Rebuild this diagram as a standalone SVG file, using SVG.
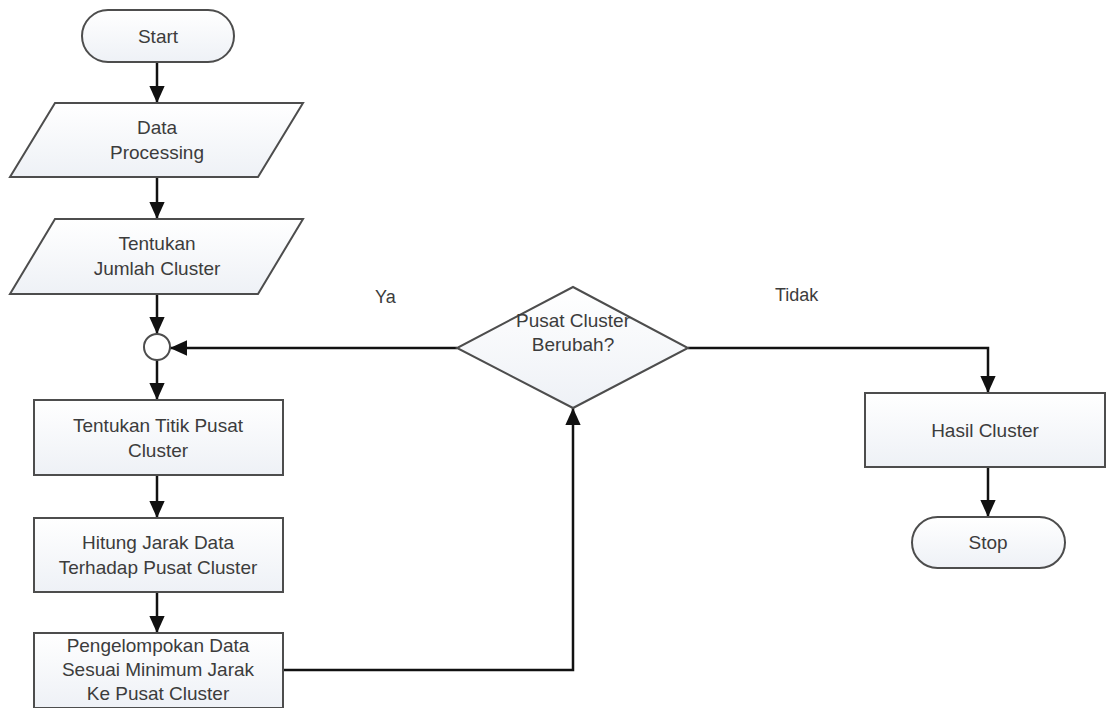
<svg xmlns="http://www.w3.org/2000/svg" width="1106" height="708" viewBox="0 0 1106 708">
<defs>
<linearGradient id="fillg" x1="0" y1="0" x2="0" y2="1">
<stop offset="0" stop-color="#ffffff"/>
<stop offset="1" stop-color="#eef1f6"/>
</linearGradient>
<marker id="arr" viewBox="0 0 10 10" refX="10" refY="5" markerWidth="17" markerHeight="17" markerUnits="userSpaceOnUse" orient="auto">
<path d="M0,0.5 L10,5 L0,9.5 z" fill="#111"/>
</marker>
</defs>
<style>
.shape{fill:url(#fillg);stroke:#4d4d4d;stroke-width:2}
.lbl{font-family:"Liberation Sans",Arial,sans-serif;font-size:19px;fill:#3c3c3c;text-anchor:middle}
.edge{fill:none;stroke:#111;stroke-width:2.5;marker-end:url(#arr)}
.elbl{font-family:"Liberation Sans",Arial,sans-serif;font-size:18px;fill:#3c3c3c}
</style>
<rect width="1106" height="708" fill="#ffffff"/>
<g id="connectors">
<path class="edge" d="M157,62 L157,103"/>
<path class="edge" d="M157,177 L157,219"/>
<path class="edge" d="M157,294 L157,334"/>
<path class="edge" d="M157,360 L157,400"/>
<path class="edge" d="M157,475 L157,518"/>
<path class="edge" d="M157,592 L157,633"/>
<path class="edge" d="M283,670 L573,670 L573,408"/>
<path class="edge" d="M457,348 L170,348"/>
<path class="edge" d="M688,348 L988,348 L988,393"/>
<path class="edge" d="M988,467 L988,517"/>
<text class="elbl" x="375" y="303">Ya</text>
<text class="elbl" x="775" y="301">Tidak</text>
</g>
<g id="start">
<rect class="shape" x="82" y="10" width="152" height="52" rx="26"/>
<text class="lbl" x="158" y="43">Start</text>
</g>
<g id="data-processing">
<polygon class="shape" points="55,103 303,103 258,177 10,177"/>
<text class="lbl" x="157" y="134">Data</text>
<text class="lbl" x="157" y="159">Processing</text>
</g>
<g id="jumlah-cluster">
<polygon class="shape" points="55,219 303,219 258,294 10,294"/>
<text class="lbl" x="157" y="250">Tentukan</text>
<text class="lbl" x="157" y="275">Jumlah Cluster</text>
</g>
<g id="junction">
<circle cx="157" cy="347" r="13" fill="#fff" stroke="#4d4d4d" stroke-width="2"/>
</g>
<g id="titik-pusat">
<rect class="shape" x="34" y="400" width="249" height="75"/>
<text class="lbl" x="158" y="432">Tentukan Titik Pusat</text>
<text class="lbl" x="158" y="457">Cluster</text>
</g>
<g id="hitung-jarak">
<rect class="shape" x="34" y="518" width="249" height="74"/>
<text class="lbl" x="158" y="549">Hitung Jarak Data</text>
<text class="lbl" x="158" y="574">Terhadap Pusat Cluster</text>
</g>
<g id="pengelompokan">
<rect class="shape" x="34" y="633" width="249" height="75"/>
<text class="lbl" x="158" y="652">Pengelompokan Data</text>
<text class="lbl" x="158" y="676">Sesuai Minimum Jarak</text>
<text class="lbl" x="158" y="700">Ke Pusat Cluster</text>
</g>
<g id="decision">
<polygon class="shape" points="573,287 688,348 573,408 457,348"/>
<text class="lbl" x="573" y="327">Pusat Cluster</text>
<text class="lbl" x="573" y="351">Berubah?</text>
</g>
<g id="hasil-cluster">
<rect class="shape" x="865" y="393" width="240" height="74"/>
<text class="lbl" x="985" y="437">Hasil Cluster</text>
</g>
<g id="stop">
<rect class="shape" x="912" y="517" width="153" height="51" rx="25.5"/>
<text class="lbl" x="988" y="549">Stop</text>
</g>
</svg>
